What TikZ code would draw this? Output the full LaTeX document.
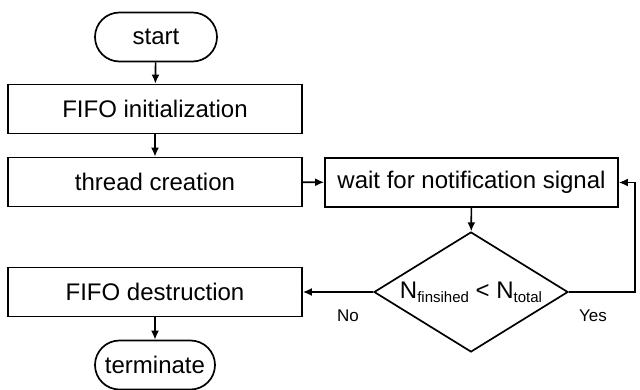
\documentclass[tikz,border=0pt]{standalone}
\usepackage{fontspec}
\setmainfont{Liberation Sans}
\usetikzlibrary{shapes.geometric,shapes.misc,arrows.meta}
\newcommand{\sbs}[1]{{\fontsize{15}{15}\selectfont\raisebox{-4pt}{#1}}}
\begin{document}
\begin{tikzpicture}[x=1pt,y=-1pt,
  every node/.style={font=\fontsize{24}{28}\selectfont},
  box/.style={draw,line width=1.7pt,minimum width=294pt,minimum height=49pt,inner sep=0pt},
  term/.style={draw,line width=1.7pt,rounded rectangle,minimum height=49pt,inner sep=0pt},
  dec/.style={draw,line width=1.7pt,diamond,aspect=1.617,minimum width=194pt,minimum height=120pt,inner sep=0pt},
  arr/.style={line width=1.7pt,-{Latex[length=9pt,width=8pt]}},
  lbl/.style={font=\fontsize{17}{20}\selectfont}]
\useasboundingbox (0,0) rectangle (640,389);
\node[term,minimum width=122pt] (start) at (156,37) {start};
\node[box] (init) at (155,109) {FIFO initialization};
\node[box] (thread) at (155,182) {thread creation};
\node[box,minimum width=293pt] (wait) at (471.5,182.5) {wait for notification signal};
\node[dec,label=center:{N\sbs{finsihed} < N\sbs{total}}] (d) at (471,292) {};
\node[box] (destr) at (155,292) {FIFO destruction};
\node[term,minimum width=120pt] (term) at (155,365) {terminate};
\coordinate (r) at (635,182.5);
\node[lbl] (no) at (348,316) {No};
\node[lbl] (yes) at (593,316) {Yes};
\draw[arr] (start) -- (init);
\draw[arr] (init) -- (thread);
\draw[arr] (thread) -- (wait);
\draw[arr] (wait) -- (d);
\draw[arr] (d.west) -- (destr.east);
\draw[arr] (d.east) -| (r) -- (wait.east);
\draw[arr] (destr) -- (term);
\end{tikzpicture}
\end{document}
